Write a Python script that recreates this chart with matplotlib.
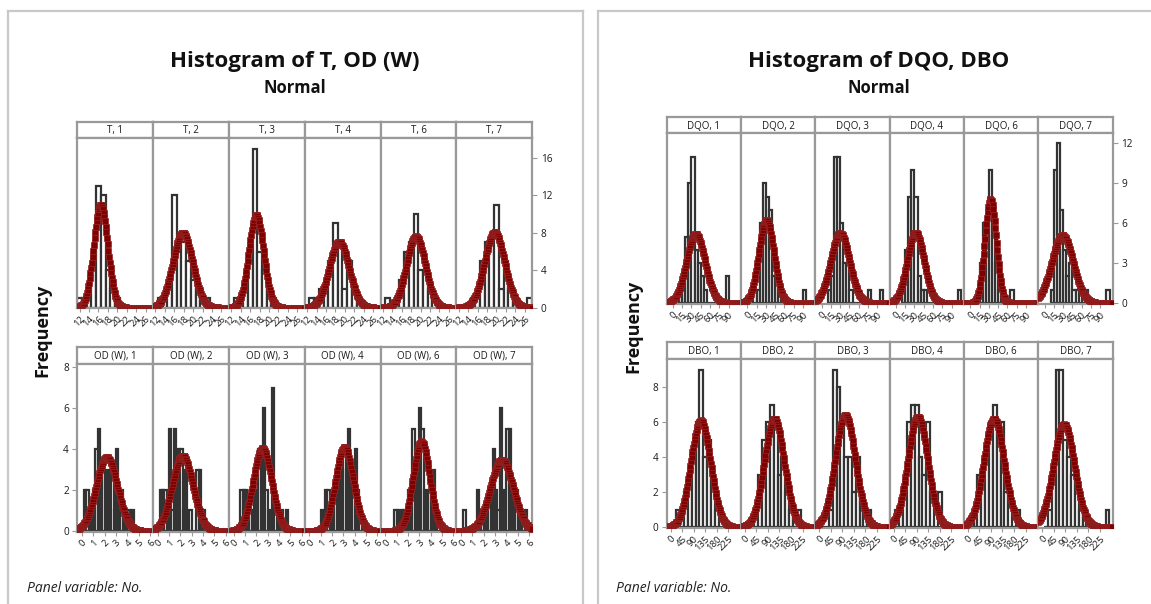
import numpy as np
import matplotlib
matplotlib.use("Agg")
import matplotlib.pyplot as plt
from matplotlib.lines import Line2D

plt.rcParams['font.family'] = ['Open Sans', 'DejaVu Sans']

W, H = 1151, 604

groups = ["1", "2", "3", "4", "6", "7"]

# ---- T (bin width 1, centres 12..27)
t_edges = np.arange(11.5, 28.0, 1.0)
t_counts = [
    [1, 1, 2, 5, 13, 12, 4, 2, 1, 0, 0, 0, 0, 0, 0, 0],
    [0, 1, 1, 3, 12, 6, 7, 5, 3, 2, 1, 1, 0, 0, 0, 0],
    [0, 1, 1, 2, 5, 17, 6, 4, 2, 1, 0, 0, 0, 0, 0, 0],
    [0, 1, 1, 2, 2, 5, 9, 7, 2, 5, 2, 1, 0, 0, 0, 0],
    [0, 1, 0, 0, 3, 6, 7, 10, 4, 4, 2, 1, 0, 0, 0, 0],
    [0, 0, 0, 1, 1, 5, 7, 7, 11, 2, 5, 2, 1, 0, 0, 1],
]
t_mean = [16.5, 17.8, 17.3, 18.8, 19.0, 19.6]
t_sd = [1.49, 2.09, 1.57, 2.09, 1.99, 2.13]
t_ticks = [12, 14, 16, 18, 20, 22, 24, 26]

# ---- OD (W) (bin width 0.2, 0..6.2)
od_edges = np.round(np.arange(0, 6.21, 0.2), 2)
od_counts = [
    [0, 2, 2, 0, 1, 2, 4, 5, 3, 3, 3, 0, 3, 3, 1, 4, 1, 2, 1, 0, 1, 0, 1, 0, 0, 0, 0, 0, 0, 0, 0],
    [0, 2, 2, 2, 1, 5, 1, 5, 3, 4, 4, 1, 3, 0, 1, 0, 0, 3, 3, 1, 1, 0, 0, 0, 0, 0, 0, 0, 0, 0, 0],
    [0, 0, 0, 2, 2, 2, 1, 1, 1, 2, 2, 4, 4, 6, 2, 1, 0, 7, 1, 0, 1, 1, 0, 1, 0, 0, 0, 0, 0, 0, 0],
    [0, 0, 0, 0, 0, 1, 0, 2, 2, 1, 1, 2, 2, 3, 2, 4, 3, 5, 3, 2, 4, 2, 1, 0, 0, 0, 0, 0, 0, 0, 0],
    [0, 0, 0, 0, 1, 1, 0, 1, 1, 1, 2, 1, 5, 2, 3, 6, 5, 2, 1, 2, 2, 3, 1, 0, 0, 0, 0, 0, 0, 0, 0],
    [0, 1, 0, 0, 0, 0, 0, 2, 1, 1, 1, 1, 2, 1, 4, 2, 1, 6, 1, 2, 5, 5, 2, 1, 2, 1, 1, 0, 1, 0, 0],
]
od_mean = [2.2, 2.2, 2.55, 3.1, 3.2, 3.6]
od_sd = [0.93, 0.91, 0.81, 0.78, 0.73, 1.01]
od_ticks = [0, 1, 2, 3, 4, 5, 6]

# ---- DQO (bin width 5, 10..110)
dqo_edges = np.arange(10, 111, 5)
dqo_counts = [
    [1, 1, 5, 9, 11, 4, 3, 2, 1, 0, 0, 0, 0, 0, 0, 2, 0, 0, 0, 0],
    [1, 1, 6, 9, 8, 7, 2, 2, 1, 0, 0, 0, 0, 0, 0, 0, 1, 0, 0, 0],
    [1, 2, 11, 11, 6, 3, 3, 1, 0, 0, 0, 0, 0, 1, 0, 0, 0, 1, 0, 0],
    [1, 4, 8, 10, 8, 2, 1, 1, 0, 0, 0, 0, 0, 0, 0, 0, 0, 0, 1, 0],
    [0, 3, 6, 6, 10, 6, 3, 1, 0, 0, 0, 1, 0, 0, 0, 0, 0, 0, 0, 0],
    [1, 10, 12, 7, 4, 2, 3, 1, 1, 0, 1, 1, 0, 0, 0, 0, 0, 0, 1, 0],
]
dqo_mean = [37, 31, 30, 32, 33, 29]
dqo_sd = [15.0, 12.2, 15.2, 13.6, 9.2, 17.2]
dqo_ticks = [0, 15, 30, 45, 60, 75, 90]

# ---- DBO (bin width 15, centres 15..255)
dbo_edges = np.arange(7.5, 263, 15)
dbo_counts = [
    [0, 1, 1, 2, 3, 4, 6, 9, 4, 5, 3, 1, 0, 0, 0, 0, 0],
    [0, 0, 1, 3, 5, 6, 7, 6, 3, 4, 2, 1, 1, 1, 0, 0, 0],
    [0, 0, 1, 9, 8, 6, 4, 4, 2, 4, 2, 1, 1, 0, 0, 0, 0],
    [1, 1, 2, 6, 7, 7, 4, 3, 6, 2, 0, 2, 0, 0, 0, 0, 0],
    [0, 1, 3, 3, 4, 6, 7, 6, 6, 2, 2, 0, 1, 0, 0, 0, 0],
    [0, 1, 3, 9, 9, 5, 4, 3, 3, 1, 1, 0, 0, 0, 0, 0, 1],
]
dbo_mean = [118, 115, 102, 95, 102, 85]
dbo_sd = [38.3, 38.6, 39.3, 38.9, 39.6, 40.8]
dbo_ticks = [0, 45, 90, 135, 180, 225]

BAR_EDGE = '#333333'
CURVE = '#800000'
FRAME = '#999999'
OUTER = '#c8c8c8'


def axes_px(fig, x, y, w, h):
    return fig.add_axes([x / W, 1 - (y + h) / H, w / W, h / H])


def style_spines(ax):
    for sp in ax.spines.values():
        sp.set_color(FRAME)
        sp.set_linewidth(1.6)


def draw_strip(fig, x, y, w, h, label):
    ax = axes_px(fig, x, y, w, h)
    ax.set_xticks([])
    ax.set_yticks([])
    style_spines(ax)
    ax.text(0.5, 0.45, label, ha='center', va='center', fontsize=7,
            color='#1a1a1a', transform=ax.transAxes)


def draw_panel(ax, edges, counts, mean, sd, xlim, ylim, ticks):
    widths = np.diff(edges)
    ax.bar(edges[:-1], counts, width=widths, align='edge', color='white',
           edgecolor=BAR_EDGE, linewidth=1.6, zorder=2)
    x = np.linspace(xlim[0], xlim[1], 220)
    n = sum(counts)
    y = n * widths[0] * np.exp(-0.5 * ((x - mean) / sd) ** 2) / (sd * np.sqrt(2 * np.pi))
    ax.plot(x, y, color=CURVE, lw=3.0, zorder=3, solid_capstyle='butt')
    ax.plot(x[::2], y[::2], ls='none', marker='s', ms=3.8, mew=0.5,
            color=CURVE, mec='#952525', zorder=4)
    ax.set_xlim(xlim)
    ax.set_ylim(ylim)
    ax.set_xticks(ticks)
    ax.set_xticklabels([str(t) for t in ticks], rotation=45, ha='right',
                       va='top', rotation_mode='anchor', fontsize=6.8,
                       color='#1a1a1a')
    ax.tick_params(axis='x', length=3, width=0.8, color=FRAME, pad=1.5)
    ax.set_yticks([])
    style_spines(ax)


def draw_row(fig, x0, col_w, strip_y, strip_h, plot_y, plot_h, name,
             edges, counts, means, sds, xlim, ylim, ticks, yticks, yside):
    axes = []
    for i, g in enumerate(groups):
        x = x0 + i * col_w
        draw_strip(fig, x, strip_y, col_w, strip_h, f'{name}, {g}')
        ax = axes_px(fig, x, plot_y, col_w, plot_h)
        draw_panel(ax, edges, counts[i], means[i], sds[i], xlim, ylim, ticks)
        axes.append(ax)
    yax = axes[-1] if yside == 'right' else axes[0]
    yax.set_yticks(yticks)
    yax.set_yticklabels([str(t) for t in yticks], fontsize=7.2, color='#1a1a1a')
    if yside == 'right':
        yax.yaxis.tick_right()
    yax.tick_params(axis='y', length=3.5, width=0.8, color=FRAME, pad=2.5)


fig = plt.figure(figsize=(W / 100, H / 100), dpi=100)

# outer frames
for xs, ys in [([8, 8], [11, H]), ([8, 583.3], [11, 11]), ([583.3, 583.3], [11, H]),
               ([598.3, 598.3], [11, H]), ([598.3, W], [11, 11])]:
    fig.add_artist(Line2D([v / W for v in xs], [1 - v / H for v in ys],
                          color=OUTER, lw=1.6))

# left chart
draw_row(fig, 77.3, 75.83, 121.7, 16.6, 138.3, 170.0, 'T',
         t_edges, t_counts, t_mean, t_sd, (11.5, 27.6), (-0.07, 18.1),
         t_ticks, [0, 4, 8, 12, 16], 'right')
draw_row(fig, 77.3, 75.83, 346.7, 17.3, 364.0, 168.0, 'OD (W)',
         od_edges, od_counts, od_mean, od_sd, (-0.4, 6.28), (-0.05, 8.15),
         od_ticks, [0, 2, 4, 6, 8], 'left')

# right chart
draw_row(fig, 666.7, 74.33, 117.3, 16.0, 133.3, 170.5, 'DQO',
         dqo_edges, dqo_counts, dqo_mean, dqo_sd, (-10, 110), (-0.05, 12.75),
         dqo_ticks, [0, 3, 6, 9, 12], 'right')
draw_row(fig, 666.7, 74.33, 341.7, 17.3, 359.0, 169.0, 'DBO',
         dbo_edges, dbo_counts, dbo_mean, dbo_sd, (-15, 275), (-0.05, 9.6),
         dbo_ticks, [0, 2, 4, 6, 8], 'left')

# titles and labels
for cx, title in [(295, 'Histogram of T, OD (W)'), (879, 'Histogram of DQO, DBO')]:
    fig.text(cx / W, 1 - 62 / H, title, ha='center', va='center',
             fontsize=16, fontweight='bold', color='#111111')
    fig.text(cx / W, 1 - 88 / H, 'Normal', ha='center', va='center',
             fontsize=12, fontweight='bold', color='#111111')

for fx, fy in [(42, 330), (633, 326)]:
    fig.text(fx / W, 1 - fy / H, 'Frequency', rotation=90, ha='center',
             va='center', fontsize=13, fontweight='bold', color='#111111')

for px in [27, 616]:
    fig.text(px / W, 1 - 589 / H, 'Panel variable: No.', ha='left',
             va='center', fontsize=10, style='italic', color='#222222')

fig.savefig('out.png', dpi=100)
